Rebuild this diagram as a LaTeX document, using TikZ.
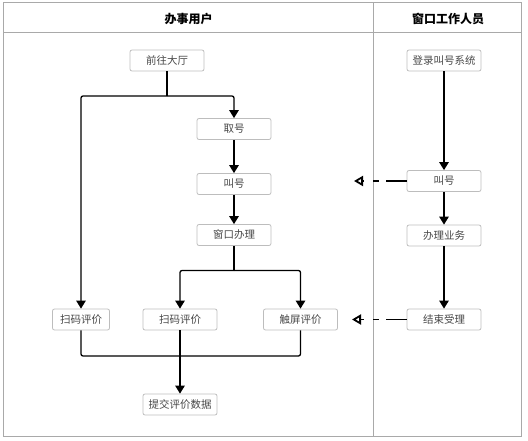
\documentclass[tikz,border=0pt]{standalone}
\usepackage{fontspec}
\setmainfont{Noto Sans CJK SC}
\usetikzlibrary{arrows.meta}
\definecolor{framegray}{HTML}{A9A9A9}
\definecolor{boxgray}{HTML}{BDBDBD}
\definecolor{textgray}{HTML}{474747}
\begin{document}
\begin{tikzpicture}[x=1pt,y=-1pt,>={Triangle[width=9.5pt,length=8pt]},
    proc/.style={draw=boxgray,rounded corners=2pt,line width=0.8pt,
      minimum width=74pt,minimum height=21pt,inner sep=0pt,text=textgray,
      font=\fontsize{10.5}{12}\selectfont},
    link/.style={line width=1.3pt,rounded corners=2pt},
    flow/.style={link,->},
    msg/.style={-{Triangle[open,width=10pt,length=9pt,line width=1.8pt]},
      line width=1.6pt,dash pattern=on 21pt off 7pt on 6pt off 9pt}]
  \useasboundingbox (0,0) rectangle (528,441);
  % lanes
  \draw [framegray,line width=1pt] (3,3) rectangle (521,436);
  \draw [framegray,line width=1pt] (3,33) -- (521,33);
  \draw [framegray,line width=1pt] (373.5,3) -- (373.5,436);
  \node [font=\bfseries\fontsize{12}{14}\selectfont] (laneUser) at (188.5,18.5) {办事用户};
  \node [font=\bfseries\fontsize{12}{14}\selectfont] (laneStaff) at (448,18.5) {窗口工作人员};
  %
  \node [proc] (qianwang) at (167,60.5) {前往大厅};
  \node [proc] (quhao) at (234,129) {取号};
  \node [proc] (jiaohaoL) at (234,184) {叫号};
  \node [proc] (banliL) at (234,235) {窗口办理};
  \node [proc,minimum width=57pt] (saomaA) at (81,319.5) {扫码评价};
  \node [proc] (saomaB) at (180,319.5) {扫码评价};
  \node [proc] (chuping) at (300.5,319.5) {触屏评价};
  \node [proc] (tijiao) at (180,404.5) {提交评价数据};
  %
  \node [proc] (denglu) at (444,60.5) {登录叫号系统};
  \node [proc] (jiaohaoR) at (444,181) {叫号};
  \node [proc] (banliR) at (444,235.5) {办理业务};
  \node [proc] (jieshu) at (444,319.5) {结束受理};
  %
  \coordinate (split1) at (167,96);
  \coordinate (split2) at (234,270.5);
  \coordinate (merge) at (180,356);
  \coordinate (tipA) at (354,181);
  \coordinate (tipB) at (352,319.5);
  %
  \draw [link] (qianwang) -- (split1);
  \draw [flow] (split1) -| (saomaA);
  \draw [flow] (split1) -| (quhao);
  \draw [flow] (quhao) -- (jiaohaoL);
  \draw [flow] (jiaohaoL) -- (banliL);
  \draw [link] (banliL) -- (split2);
  \draw [flow] (split2) -| (saomaB);
  \draw [flow] (split2) -| (chuping);
  \draw [link] (saomaA) |- (merge);
  \draw [link] (chuping) |- (merge);
  \draw [flow] (saomaB) -- (tijiao);
  %
  \draw [flow] (denglu) -- (jiaohaoR);
  \draw [flow] (jiaohaoR) -- (banliR);
  \draw [flow] (banliR) -- (jieshu);
  \draw [msg] (jiaohaoR.west) -- (tipA);
  \draw [msg] (jieshu.west) -- (tipB);
\end{tikzpicture}
\end{document}
